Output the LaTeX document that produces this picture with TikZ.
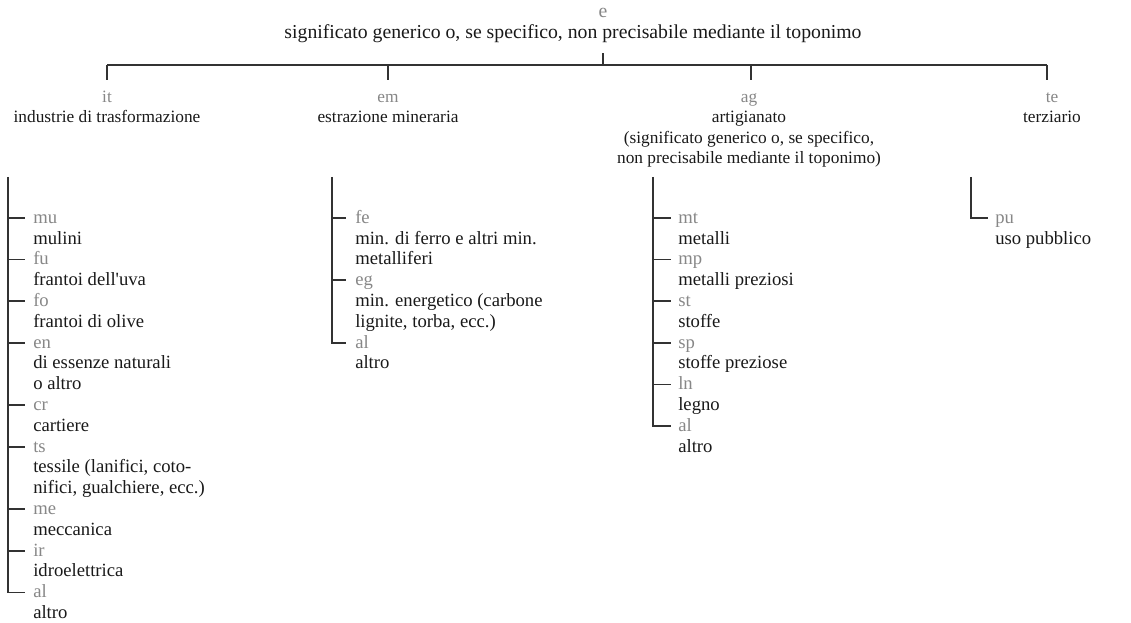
\documentclass[tikz,border=0pt]{standalone}
\usepackage{fontspec}
\setmainfont{Liberation Serif}
\usetikzlibrary{positioning}
\definecolor{codegray}{RGB}{135,135,135}
\definecolor{textdark}{RGB}{25,25,25}
\definecolor{linegray}{RGB}{50,50,50}
\newcommand{\tcode}[1]{\strut\textcolor{codegray}{#1}}
\tikzset{
  tree/.style={draw=linegray, line width=1.35pt},
  root/.style={anchor=base, inner sep=0pt, text=textdark, font=\fontsize{14.8}{17}\selectfont},
  cat/.style={anchor=north, align=center, inner sep=0pt, text=textdark, font=\fontsize{13}{15.4}\selectfont},
  leaf/.style={anchor=north west, align=left, inner sep=0pt, text=textdark, font=\fontsize{14}{15.6}\selectfont},
}

\begin{document}
\begin{tikzpicture}[x=0.75pt,y=0.75pt,yscale=-1,xscale=1]
\useasboundingbox (0,0) rectangle (1131,623);

% Root
\node[root] (e) at (603,18) {\textcolor{codegray}{e}};
\node[root] (e-desc) at (573,39) {significato generico o, se specifico, non precisabile mediante il toponimo};

% Categories (first baseline at 102)
\node[cat] (it) at (107,87.6) {\tcode{it}\\industrie di trasformazione};
\node[cat] (em) at (388,87.6) {\tcode{em}\\estrazione mineraria};
\node[cat] (ag) at (749,87.6) {\tcode{ag}\\artigianato\\(significato generico o, se specifico,\\non precisabile mediante il toponimo)};
\node[cat] (te) at (1052,87.6) {\tcode{te}\\terziario};

% Bar
\coordinate (j-it) at (107,65);
\coordinate (j-em) at (388,65);
\coordinate (j-root) at (603,65);
\coordinate (j-ag) at (751,65);
\coordinate (j-te) at (1047,65);
\draw[tree] (j-it) -- (j-te);
\draw[tree, shorten >=10.5pt] (j-root) -- (j-root |- e-desc.base);
\foreach \c in {it,em,ag,te}
  \draw[tree, shorten >=5.7pt] (j-\c) -- (j-\c |- \c.north);

% industrie di trasformazione
\coordinate (it-top) at (8,177);
\coordinate (t-mu) at (8,218);
\coordinate (t-fu) at (8,259.6);
\coordinate (t-fo) at (8,301.2);
\coordinate (t-en) at (8,342.8);
\coordinate (t-cr) at (8,405.2);
\coordinate (t-ts) at (8,446.8);
\coordinate (t-me) at (8,509.2);
\coordinate (t-ir) at (8,550.8);
\coordinate (t-it-al) at (8,592.4);
\node[leaf] (mu) at (33,208.4) {\tcode{mu}\\mulini};
\node[leaf] (fu) at (33,250) {\tcode{fu}\\frantoi dell\textquotesingle uva};
\node[leaf] (fo) at (33,291.6) {\tcode{fo}\\frantoi di olive};
\node[leaf] (en) at (33,333.2) {\tcode{en}\\di essenze naturali\\o altro};
\node[leaf] (cr) at (33,395.6) {\tcode{cr}\\cartiere};
\node[leaf] (ts) at (33,437.2) {\tcode{ts}\\tessile (lanifici, coto-\\nifici, gualchiere, ecc.)};
\node[leaf] (me) at (33,499.6) {\tcode{me}\\meccanica};
\node[leaf] (ir) at (33,541.2) {\tcode{ir}\\idroelettrica};
\node[leaf] (it-al) at (33,582.8) {\tcode{al}\\altro};
\draw[tree, shorten >=6pt] (it-top) |- (t-it-al -| it-al.west);
\foreach \n in {mu,fu,fo,en,cr,ts,me,ir}
  \draw[tree, shorten >=6pt] (t-\n) -- (t-\n -| \n.west);

% estrazione mineraria
\coordinate (em-top) at (332,177);
\coordinate (t-fe) at (332,218);
\coordinate (t-eg) at (332,280.4);
\coordinate (t-em-al) at (332,342.8);
\node[leaf] (fe) at (355,208.4) {\tcode{fe}\\min. di ferro e altri min.\\metalliferi};
\node[leaf] (eg) at (355,270.8) {\tcode{eg}\\min. energetico (carbone\\lignite, torba, ecc.)};
\node[leaf] (em-al) at (355,333.2) {\tcode{al}\\altro};
\draw[tree, shorten >=7pt] (em-top) |- (t-em-al -| em-al.west);
\foreach \n in {fe,eg}
  \draw[tree, shorten >=7pt] (t-\n) -- (t-\n -| \n.west);

% artigianato
\coordinate (ag-top) at (653,177);
\coordinate (t-mt) at (653,218);
\coordinate (t-mp) at (653,259.6);
\coordinate (t-st) at (653,301.2);
\coordinate (t-sp) at (653,342.8);
\coordinate (t-ln) at (653,384.4);
\coordinate (t-ag-al) at (653,426);
\node[leaf] (mt) at (678,208.4) {\tcode{mt}\\metalli};
\node[leaf] (mp) at (678,250) {\tcode{mp}\\metalli preziosi};
\node[leaf] (st) at (678,291.6) {\tcode{st}\\stoffe};
\node[leaf] (sp) at (678,333.2) {\tcode{sp}\\stoffe preziose};
\node[leaf] (ln) at (678,374.8) {\tcode{ln}\\legno};
\node[leaf] (ag-al) at (678,416.4) {\tcode{al}\\altro};
\draw[tree, shorten >=5pt] (ag-top) |- (t-ag-al -| ag-al.west);
\foreach \n in {mt,mp,st,sp,ln}
  \draw[tree, shorten >=5pt] (t-\n) -- (t-\n -| \n.west);

% terziario
\coordinate (te-top) at (971,177);
\coordinate (t-pu) at (971,218);
\node[leaf] (pu) at (995,208.4) {\tcode{pu}\\uso pubblico};
\draw[tree, shorten >=5pt] (te-top) |- (t-pu -| pu.west);

\end{tikzpicture}
\end{document}
